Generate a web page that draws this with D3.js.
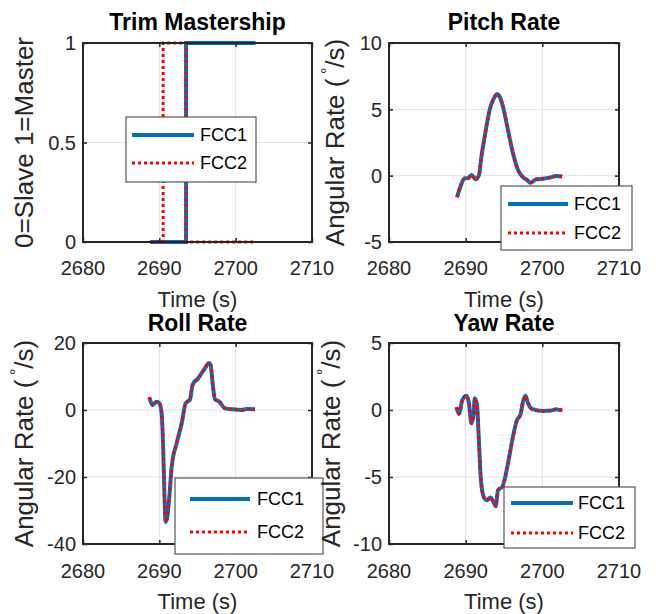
<!DOCTYPE html>
<html>
<head>
<meta charset="utf-8">
<script src="https://cdn.jsdelivr.net/npm/d3@7"></script>
<style>
    body { margin: 0; background: #fff; }
    svg { display: block; font-family: "Liberation Sans", Arial, sans-serif; }
</style>
</head>
<body>
<svg id="chart" width="656" height="614"></svg>
<script>
// shared x axis
const timeDomain = [2680, 2710];
const timeTicks = [2680, 2690, 2700, 2710];
const seriesNames = ["FCC1", "FCC2"];

// Trim mastership (step signals, 0 = slave, 1 = master)
const trimFcc1Time = [2688.8, 2693.5, 2702.6];
const trimFcc1Value = [0, 1, 1];
const trimFcc2Time = [2688.8, 2690.5, 2693.5, 2702.6];
const trimFcc2Value = [0, 1, 0, 0];
const trimTicks = [0, 0.5, 1];

// Pitch rate (deg/s) - FCC1 and FCC2 overlap within a pixel
const pitchTime = [2688.87, 2689.31, 2689.87, 2690.3, 2690.75, 2691.3, 2691.74, 2692.05, 2692.48, 2693.13,
    2693.79, 2694.09, 2694.44, 2694.87, 2695.52, 2696.17, 2696.83, 2697.48, 2698.0, 2698.44,
    2699.22, 2700.09, 2700.96, 2701.83, 2702.6];
const pitchRate = [-1.63, -0.83, -0.2, -0.2, 0.05, -0.27, 0.05, 1.43, 2.94, 4.95,
    5.95, 6.16, 5.95, 5.2, 3.44, 1.69, 0.43, -0.12, -0.32, -0.53,
    -0.27, -0.23, -0.15, -0.02, -0.07];
const pitchTicks = [-5, 0, 5, 10];

// Roll rate (deg/s)
const rollTime = [2688.69, 2689.13, 2689.65, 2690.0, 2690.3, 2690.51, 2690.65, 2690.83, 2691.04, 2691.31,
    2691.62, 2692.27, 2692.93, 2693.45, 2693.8, 2694.0, 2694.36, 2695.1, 2695.98, 2696.5,
    2696.72, 2696.98, 2697.29, 2697.85, 2698.6, 2699.69, 2700.78, 2701.43, 2702.53];
const rollRate = [3.8, 1.5, 2.5, 2.0, -1.0, -11.9, -23.9, -33.4, -31.9, -25.9,
    -16.9, -9.9, -3.95, 2.0, 2.7, 3.0, 7.5, 9.5, 12.5, 14.0,
    13.5, 8.0, 3.2, 2.5, 0.5, 0.2, 0.0, 0.3, 0.2];
const rollTicks = [-40, -20, 0, 20];

// Yaw rate (deg/s)
const yawTime = [2688.79, 2689.13, 2689.57, 2690.1, 2690.43, 2690.75, 2691.05, 2691.18, 2691.48, 2691.7,
    2691.96, 2692.35, 2692.78, 2693.23, 2693.57, 2693.92, 2694.22, 2694.79, 2695.52, 2696.17,
    2696.7, 2697.14, 2697.48, 2697.79, 2698.13, 2698.7, 2700.09, 2701.18, 2701.83, 2702.26, 2702.6];
const yawRate = [0.21, -0.29, 0.76, 1.06, 0.51, -0.99, -0.24, 0.88, 0.38, -1.99,
    -4.98, -6.48, -6.73, -6.53, -6.8, -7.18, -5.98, -5.73, -3.98, -1.99,
    -0.74, -0.37, 0.63, 1.06, 0.51, 0.06, -0.07, -0.04, 0.06, 0.0, 0.0];
const yawTicks = [-10, -5, 0, 5];

const zip = (t, v) => t.map((d, i) => ({t: d, v: v[i]}));

const panels = [
    {
        title: "Trim Mastership", ylabel: "0=Slave 1=Master", degree: false,
        series: [zip(trimFcc1Time, trimFcc1Value), zip(trimFcc2Time, trimFcc2Value)],
        yTicks: trimTicks, step: true,
        box: {left: 83, right: 312, top: 43, bottom: 242}, titleY: 30, ylabelX: 33, xlabelY: 307, tickY: 275,
        legend: {x0: 126, x1: 256, y0: 117, y1: 182, lx0: 132, lx1: 194, rows: [135, 163], tx: 200}
    },
    {
        title: "Pitch Rate", ylabel: "Angular Rate (", degree: true,
        series: [zip(pitchTime, pitchRate), zip(pitchTime, pitchRate)],
        yTicks: pitchTicks, step: false,
        box: {left: 389, right: 619, top: 43, bottom: 242}, titleY: 30, ylabelX: 344, xlabelY: 307, tickY: 275,
        legend: {x0: 501, x1: 632, y0: 186, y1: 250, lx0: 508, lx1: 568, rows: [204, 233], tx: 574}
    },
    {
        title: "Roll Rate", ylabel: "Angular Rate (", degree: true,
        series: [zip(rollTime, rollRate), zip(rollTime, rollRate)],
        yTicks: rollTicks, step: false,
        box: {left: 83, right: 312, top: 343, bottom: 544}, titleY: 331, ylabelX: 33, xlabelY: 609, tickY: 578,
        legend: {x0: 175, x1: 323, y0: 478, y1: 554, lx0: 190, lx1: 250, rows: [499, 532], tx: 257}
    },
    {
        title: "Yaw Rate", ylabel: "Angular Rate (", degree: true,
        series: [zip(yawTime, yawRate), zip(yawTime, yawRate)],
        yTicks: yawTicks, step: false,
        box: {left: 389, right: 619, top: 343, bottom: 544}, titleY: 331, ylabelX: 340, xlabelY: 609, tickY: 578,
        legend: {x0: 504, x1: 635, y0: 487, y1: 548, lx0: 511, lx1: 573, rows: [503, 533], tx: 578}
    }
];

const axisColor = "#262626";
const gridColor = "#e3e3e3";
const fcc1Color = "#0072BD";
const fcc2Color = "#FF0000";
const fcc1Width = 4;
const fcc2Width = 3;
const fcc2Dash = "3,3";

const svg = d3.select("#chart");

panels.forEach(p =>
{
    const b = p.box;
    const x = d3.scaleLinear().domain(timeDomain).range([b.left, b.right]);
    const y = d3.scaleLinear().domain(d3.extent(p.yTicks)).range([b.bottom, b.top]);
    const g = svg.append("g");

    // grid
    g.selectAll(".vgrid").data(timeTicks.slice(1, -1)).enter().append("line")
        .attr("x1", d => x(d)).attr("x2", d => x(d))
        .attr("y1", b.top).attr("y2", b.bottom)
        .attr("stroke", gridColor).attr("stroke-width", 1);
    g.selectAll(".hgrid").data(p.yTicks.slice(1, -1)).enter().append("line")
        .attr("x1", b.left).attr("x2", b.right)
        .attr("y1", d => y(d)).attr("y2", d => y(d))
        .attr("stroke", gridColor).attr("stroke-width", 1);

    // data lines
    const line = d3.line()
        .x(d => x(d.t))
        .y(d => y(d.v))
        .curve(p.step ? d3.curveStepAfter : d3.curveMonotoneX);

    g.append("path").datum(p.series[0])
        .attr("d", line).attr("fill", "none")
        .attr("stroke", fcc1Color).attr("stroke-width", fcc1Width);
    g.append("path").datum(p.series[1])
        .attr("d", line).attr("fill", "none")
        .attr("stroke", fcc2Color).attr("stroke-width", fcc2Width)
        .attr("stroke-dasharray", fcc2Dash);

    // axes: inward ticks on all four sides
    const tickLen = 4;
    g.append("g").attr("transform", `translate(0,${b.bottom})`)
        .call(d3.axisBottom(x).tickValues(timeTicks).tickSize(-tickLen).tickFormat(""));
    g.append("g").attr("transform", `translate(0,${b.top})`)
        .call(d3.axisTop(x).tickValues(timeTicks).tickSize(-tickLen).tickFormat(""));
    g.append("g").attr("transform", `translate(${b.left},0)`)
        .call(d3.axisLeft(y).tickValues(p.yTicks).tickSize(-tickLen).tickFormat(""));
    g.append("g").attr("transform", `translate(${b.right},0)`)
        .call(d3.axisRight(y).tickValues(p.yTicks).tickSize(-tickLen).tickFormat(""));
    g.selectAll(".domain").remove();
    g.selectAll(".tick line").attr("stroke", axisColor).attr("stroke-width", 1.5);

    g.append("rect")
        .attr("x", b.left).attr("y", b.top)
        .attr("width", b.right - b.left).attr("height", b.bottom - b.top)
        .attr("fill", "none").attr("stroke", axisColor).attr("stroke-width", 2);

    // tick labels
    g.selectAll(".xlab").data(timeTicks).enter().append("text")
        .attr("x", d => x(d)).attr("y", p.tickY)
        .attr("text-anchor", "middle")
        .attr("font-size", "20px").attr("fill", axisColor)
        .text(d => d);
    g.selectAll(".ylab").data(p.yTicks).enter().append("text")
        .attr("x", b.left - 7).attr("y", d => y(d))
        .attr("text-anchor", "end").attr("dy", "0.36em")
        .attr("font-size", "20px").attr("fill", axisColor)
        .text(d => d);

    // title and axis labels
    g.append("text")
        .attr("x", (b.left + b.right) / 2).attr("y", p.titleY)
        .attr("text-anchor", "middle")
        .attr("font-size", "23px").attr("font-weight", "bold").attr("fill", "#000")
        .text(p.title);

    g.append("text")
        .attr("x", (b.left + b.right) / 2).attr("y", p.xlabelY)
        .attr("text-anchor", "middle")
        .attr("font-size", "22px").attr("fill", axisColor)
        .text("Time (s)");

    const yl = g.append("text")
        .attr("transform", `translate(${p.ylabelX},${(b.top + b.bottom) / 2}) rotate(-90)`)
        .attr("text-anchor", "middle")
        .attr("font-size", "26px").attr("fill", axisColor);
    yl.append("tspan").text(p.ylabel);
    if (p.degree)
    {
        yl.append("tspan").attr("dy", -11).attr("font-size", "16px").text(" \u00B0");
        yl.append("tspan").attr("dy", 11).text("/s)");
    }

    // legend
    const L = p.legend;
    const lg = g.append("g");
    lg.append("rect")
        .attr("x", L.x0).attr("y", L.y0)
        .attr("width", L.x1 - L.x0).attr("height", L.y1 - L.y0)
        .attr("fill", "#fff").attr("stroke", "#555").attr("stroke-width", 1.2);
    seriesNames.forEach((name, i) =>
    {
        lg.append("line")
            .attr("x1", L.lx0).attr("x2", L.lx1)
            .attr("y1", L.rows[i]).attr("y2", L.rows[i])
            .attr("stroke", i === 0 ? fcc1Color : fcc2Color)
            .attr("stroke-width", i === 0 ? fcc1Width : fcc2Width)
            .attr("stroke-dasharray", i === 0 ? null : fcc2Dash);
        lg.append("text")
            .attr("x", L.tx).attr("y", L.rows[i])
            .attr("dy", "0.36em")
            .attr("font-size", "18px").attr("fill", "#000")
            .text(name);
    });
});
</script>
</body>
</html>
